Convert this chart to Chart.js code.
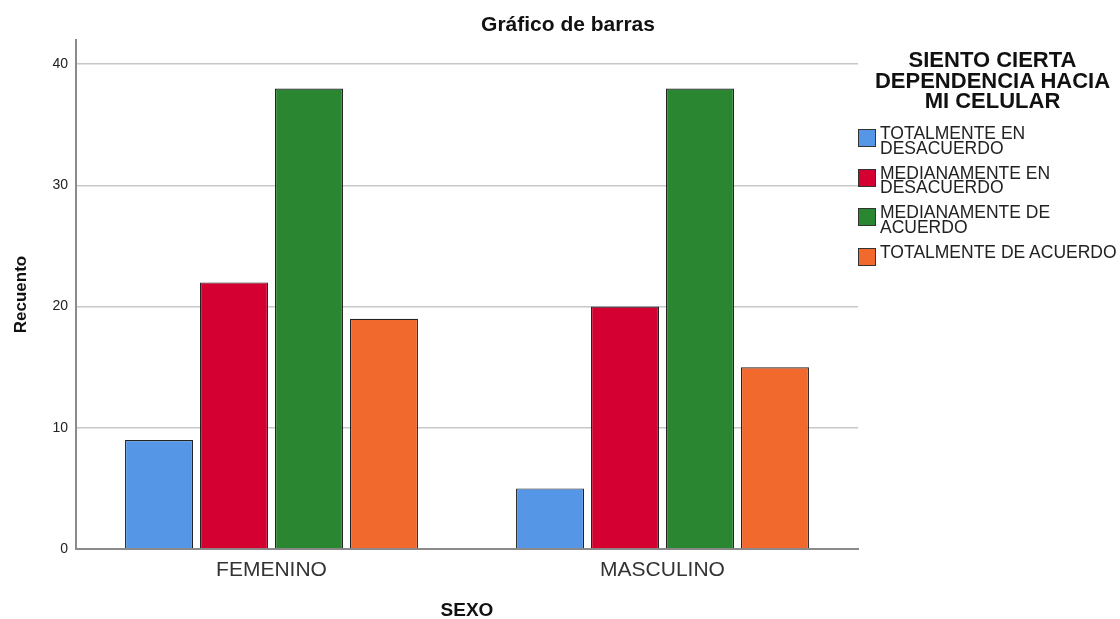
<!DOCTYPE html>
<html>
<head>
<meta charset="utf-8">
<script src="https://cdn.jsdelivr.net/npm/chart.js@4"></script>
<style>
    body { margin: 0; background: #fff; font-family: 'Liberation Sans', Arial, sans-serif; }
    #wrap { position: relative; width: 1120px; height: 619px; }
    #title { position: absolute; left: 418px; width: 300px; top: 12px; text-align: center; font-weight: bold; font-size: 21px; color: #111; line-height: 24px; }
    #legendTitle { position: absolute; left: 860px; width: 265px; top: 50px; text-align: center; font-weight: bold; font-size: 22px; line-height: 20.5px; color: #111; }
    #legend { position: absolute; left: 858px; top: 126px; width: 262px; }
    .item { position: relative; height: 39.5px; }
    .box { position: absolute; left: 0; top: 3px; width: 16px; height: 16px; border: 1px solid #333; }
    .txt { position: absolute; left: 22px; top: 0; width: 244px; font-size: 17.5px; line-height: 14.5px; color: #222; }
</style>
</head>
<body>
<div id="wrap">
    <canvas id="barChart" width="1120" height="619"></canvas>
    <div id="title">Gráfico de barras</div>
    <div id="legendTitle">SIENTO CIERTA<br>DEPENDENCIA HACIA<br>MI CELULAR</div>
    <div id="legend"></div>
</div>
<script>
const sexoLabels = ['FEMENINO', 'MASCULINO']
const seriesLabels = ['TOTALMENTE EN DESACUERDO', 'MEDIANAMENTE EN DESACUERDO', 'MEDIANAMENTE DE ACUERDO', 'TOTALMENTE DE ACUERDO']
const totalDesacuerdo = [9, 5]
const medianDesacuerdo = [22, 20]
const medianAcuerdo = [38, 38]
const totalAcuerdo = [19, 15]
const yTicks = [0, 10, 20, 30, 40]
const colors = ['#5596E6', '#D50032', '#2A8630', '#F2692E']

const seriesData = [totalDesacuerdo, medianDesacuerdo, medianAcuerdo, totalAcuerdo]

Chart.defaults.font.family = "'Liberation Sans', Arial, sans-serif"
Chart.defaults.animation = false

const context = document.getElementById('barChart').getContext('2d')

new Chart(context, {
    type: 'bar',
    data: {
        labels: sexoLabels,
        datasets: seriesData.map((d, i) => ({
            label: seriesLabels[i],
            data: d,
            backgroundColor: colors[i],
            borderColor: '#222',
            borderWidth: 1.2,
            barPercentage: 0.907,
            categoryPercentage: 0.767
        }))
    },
    options: {
        responsive: false,
        maintainAspectRatio: false,
        layout: {
            padding: { top: 40, right: 262, left: 0, bottom: 0 }
        },
        plugins: {
            legend: { display: false },
            title: { display: false },
            tooltip: { enabled: false }
        },
        scales: {
            x: {
                grid: { display: false, drawTicks: false },
                border: { color: '#8a8a8a', width: 2 },
                ticks: {
                    color: '#333',
                    padding: 9,
                    font: { size: 21 }
                },
                title: {
                    display: true,
                    text: 'SEXO',
                    color: '#111',
                    font: { size: 19, weight: 'bold' },
                    padding: { top: 0, bottom: -3 }
                },
                afterFit: scale => { scale.height = 70 }
            },
            y: {
                min: 0,
                max: 42,
                afterBuildTicks: scale => {
                    scale.ticks = yTicks.map(v => ({ value: v }))
                },
                grid: { color: '#c8c8c8', lineWidth: 1.5, drawTicks: false },
                border: { color: '#8a8a8a', width: 2 },
                ticks: {
                    color: '#222',
                    padding: 8,
                    font: { size: 14 }
                },
                title: {
                    display: true,
                    text: 'Recuento',
                    color: '#111',
                    font: { size: 17, weight: 'bold' },
                    padding: { top: 11, bottom: 0 }
                },
                afterFit: scale => { scale.width = 76 }
            }
        }
    }
});

const legend = document.getElementById('legend')
seriesLabels.forEach((label, i) => {
    const item = document.createElement('div')
    item.className = 'item'
    const box = document.createElement('div')
    box.className = 'box'
    box.style.background = colors[i]
    const txt = document.createElement('div')
    txt.className = 'txt'
    txt.textContent = label
    item.appendChild(box)
    item.appendChild(txt)
    legend.appendChild(item)
})
</script>
</body>
</html>
